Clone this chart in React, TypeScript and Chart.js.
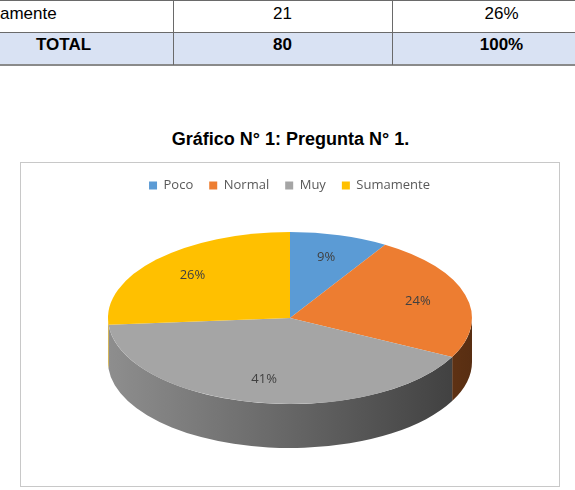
import React, { useEffect, useRef } from "react";
import { Chart, registerables } from "chart.js";

Chart.register(...registerables);

// ---- data ----
const categories = ["Poco", "Normal", "Muy", "Sumamente"];
const counts = [7, 19, 33, 21];
const sliceColors = ["#5B9BD5", "#ED7D31", "#A5A5A5", "#FFC000"];
const chartTitle = "Gráfico N° 1: Pregunta N° 1.";
const tableRow = ["Sumamente", "21", "26%"];
const tableTotal = ["TOTAL", "80", "100%"];

const total = counts.reduce((a, b) => a + b, 0);
const percentLabels = counts.map((v) => Math.round((v / total) * 100) + "%");

// ---- geometry of 3D pie (canvas coordinates) ----
const CANVAS_LEFT = 21;
const CANVAS_TOP = 163;
const CANVAS_W = 537;
const CANVAS_H = 322;
const CX = 290 - CANVAS_LEFT;
const CY = 318 - CANVAS_TOP;
const RX = 182;
const RY = 86;
const DEPTH = 44;
const LABEL_F = 0.73;

function shade(hex: string, f: number) {
  const n = parseInt(hex.slice(1), 16);
  const r = Math.round(((n >> 16) & 255) * f);
  const g = Math.round(((n >> 8) & 255) * f);
  const b = Math.round((n & 255) * f);
  return `rgb(${r},${g},${b})`;
}

const pie3d = {
  id: "pie3d",
  beforeDatasetsDraw(chart: any) {
    const ctx = chart.ctx as CanvasRenderingContext2D;
    const arcs = chart.getDatasetMeta(0).data as any[];
    if (!arcs.length) return;
    const p0 = arcs[0].getProps(["x", "y", "outerRadius"], true);
    // side walls
    arcs.forEach((arc: any, i: number) => {
      const { startAngle, endAngle } = arc.getProps(["startAngle", "endAngle"], true);
      const color = sliceColors[i];
      for (const k of [-1, 0, 1]) {
        const lo = Math.max(startAngle, k * 2 * Math.PI);
        const hi = Math.min(endAngle, k * 2 * Math.PI + Math.PI);
        if (hi <= lo) continue;
        ctx.save();
        ctx.beginPath();
        ctx.ellipse(CX, CY, RX, RY, 0, lo, hi, false);
        ctx.ellipse(CX, CY + DEPTH, RX, RY, 0, hi, lo, true);
        ctx.closePath();
        const g = ctx.createLinearGradient(CX - RX, 0, CX + RX, 0);
        g.addColorStop(0, shade(color, 0.86));
        g.addColorStop(0.5, shade(color, 0.62));
        g.addColorStop(1, shade(color, 0.37));
        ctx.fillStyle = g;
        ctx.fill();
        ctx.restore();
      }
    });
    ctx.save();
    ctx.translate(CX, CY);
    ctx.scale(RX / p0.outerRadius, RY / p0.outerRadius);
    ctx.translate(-p0.x, -p0.y);
  },
  afterDatasetsDraw(chart: any) {
    const ctx = chart.ctx as CanvasRenderingContext2D;
    const arcs = chart.getDatasetMeta(0).data as any[];
    if (!arcs.length) return;
    ctx.restore();
    ctx.save();
    ctx.font = "13px 'Open Sans'";
    ctx.fillStyle = "#404040";
    ctx.textAlign = "center";
    ctx.textBaseline = "middle";
    arcs.forEach((arc: any, i: number) => {
      const { startAngle, endAngle } = arc.getProps(["startAngle", "endAngle"], true);
      const mid = (startAngle + endAngle) / 2;
      const x = CX + LABEL_F * RX * Math.cos(mid);
      const y = CY + LABEL_F * RY * Math.sin(mid);
      ctx.fillText(percentLabels[i], x, y);
    });
    ctx.restore();
  },
};

function PieChart() {
  const ref = useRef<HTMLCanvasElement | null>(null);
  useEffect(() => {
    if (!ref.current) return;
    const chart = new Chart(ref.current, {
      type: "pie",
      data: {
        labels: categories,
        datasets: [
          {
            data: counts,
            backgroundColor: sliceColors,
            borderWidth: 0,
          },
        ],
      },
      options: {
        animation: false,
        responsive: false,
        devicePixelRatio: 1,
        layout: { padding: { top: 0 } },
        plugins: {
          legend: {
            position: "top",
            labels: {
              boxWidth: 8,
              boxHeight: 8,
              padding: 16,
              color: "#595959",
              font: { family: "'Open Sans'", size: 13 },
            },
          },
          tooltip: { enabled: false },
        },
      },
      plugins: [pie3d as any],
    });
    return () => chart.destroy();
  }, []);
  return (
    <canvas
      ref={ref}
      width={CANVAS_W}
      height={CANVAS_H}
      style={{ position: "absolute", left: CANVAS_LEFT, top: CANVAS_TOP, width: CANVAS_W, height: CANVAS_H }}
    />
  );
}

const cellText = (txt: string, center: number, top: number, bold: boolean) => (
  <div
    style={{
      position: "absolute",
      left: center - 110,
      width: 220,
      top,
      textAlign: "center",
      fontFamily: "'Liberation Sans', Arial, sans-serif",
      fontSize: 17,
      lineHeight: "19px",
      fontWeight: bold ? 700 : 400,
      color: "#000",
      whiteSpace: "nowrap",
    }}
  >
    {txt}
  </div>
);

export default function App() {
  const lineColor = "#6a6a6a";
  return (
    <div style={{ position: "absolute", left: 0, top: 0, width: 575, height: 490, background: "#fff", overflow: "hidden" }}>
      {/* table fragment */}
      <div style={{ position: "absolute", left: 0, top: 33, width: 575, height: 31, background: "#D9E2F3" }} />
      <div style={{ position: "absolute", left: 0, top: 0, width: 575, height: 1, background: lineColor }} />
      <div style={{ position: "absolute", left: 0, top: 32, width: 575, height: 1, background: lineColor }} />
      <div style={{ position: "absolute", left: 0, top: 64, width: 575, height: 2, background: "#8a8a8a" }} />
      <div style={{ position: "absolute", left: 173, top: 0, width: 1, height: 65, background: lineColor }} />
      <div style={{ position: "absolute", left: 392, top: 0, width: 1, height: 65, background: lineColor }} />
      <div
        style={{
          position: "absolute",
          left: -35,
          top: 4,
          fontFamily: "'Liberation Sans', Arial, sans-serif",
          fontSize: 17,
          lineHeight: "19px",
          color: "#000",
          whiteSpace: "nowrap",
        }}
      >
        {tableRow[0]}
      </div>
      {cellText(tableRow[1], 282.5, 4, false)}
      {cellText(tableRow[2], 501.5, 4, false)}
      {cellText(tableTotal[0], 63.5, 35, true)}
      {cellText(tableTotal[1], 282.5, 35, true)}
      {cellText(tableTotal[2], 501.5, 35, true)}

      {/* title */}
      <div
        style={{
          position: "absolute",
          left: 0,
          width: 581,
          top: 129,
          textAlign: "center",
          fontFamily: "'Liberation Sans', Arial, sans-serif",
          fontSize: 18,
          lineHeight: "20px",
          fontWeight: 700,
          color: "#000",
          whiteSpace: "nowrap",
        }}
      >
        {chartTitle}
      </div>

      {/* chart box */}
      <div
        style={{
          position: "absolute",
          left: 20,
          top: 162,
          width: 538,
          height: 323,
          border: "1px solid #c8c8c8",
          boxSizing: "content-box",
        }}
      />
      <PieChart />
    </div>
  );
}
